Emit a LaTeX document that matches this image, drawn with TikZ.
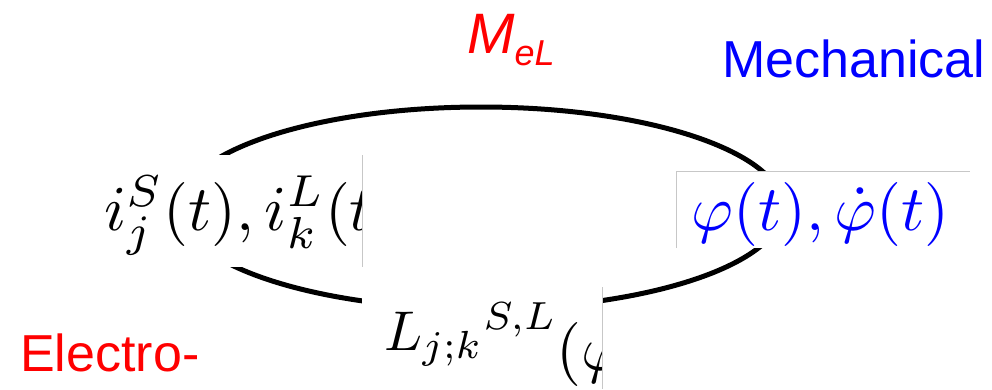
\documentclass[tikz,border=0pt]{standalone}
\usepackage{fontspec}
\newfontfamily\arialfont{Liberation Sans}
\begin{document}
\begin{tikzpicture}[x=1pt,y=-1pt,
  ring/.style={line width=5pt, black},
  cover/.style={fill=white, draw=none},
  edgeline/.style={draw=black!22, line width=1pt},
  eq/.style={inner sep=0pt, anchor=base west, scale=6.4, font=\fontsize{10}{10}\selectfont},
  lab/.style={inner sep=0pt, anchor=base west, font=\arialfont\fontsize{52}{52}\selectfont}]
\useasboundingbox (0,0) rectangle (992,389);
% ring
\draw[ring] (481,208) ellipse [x radius=302, y radius=101];
% box 1: currents
\fill[cover] (60,155) rectangle (362,267);
\begin{scope}
  \clip (60,155) rectangle (362,267);
  \node[eq] (cur) at (103,230) {$i_j^S(t), i_k^L(t$};
\end{scope}
\draw[edgeline] (362,155) -- (362,267);
% box 2: angle
\fill[cover] (676,171) rectangle (972,248);
\begin{scope}
  \clip (676,171) rectangle (972,248);
  \node[eq, text=blue] (ang) at (690,230) {$\varphi(t), \dot{\varphi}(t)$};
\end{scope}
\draw[edgeline] (676,248) -- (676,171) -- (970,171);
% box 3: inductance
\fill[cover] (362,287) rectangle (602,389);
\begin{scope}
  \clip (362,287) rectangle (602,389);
  \node[eq, scale=0.875] (ind) at (383,350) {$L_{j;k}{}^{S,L}$};
  \node[eq] (indarg) at (555,370) {$(\varphi$};
\end{scope}
\draw[edgeline] (602,287) -- (602,389);
% labels
\node[inner sep=0pt, anchor=base west, text=red, font=\arialfont\itshape\fontsize{57}{57}\selectfont] (mel) at (467,53)
  {M{\fontsize{36}{36}\selectfont\raisebox{-12pt}{eL}}};
\node[lab, text=blue] (mech) at (722,77) {Mechanical};
\node[lab, text=red] (elec) at (20,371) {Electro-};
\end{tikzpicture}
\end{document}
